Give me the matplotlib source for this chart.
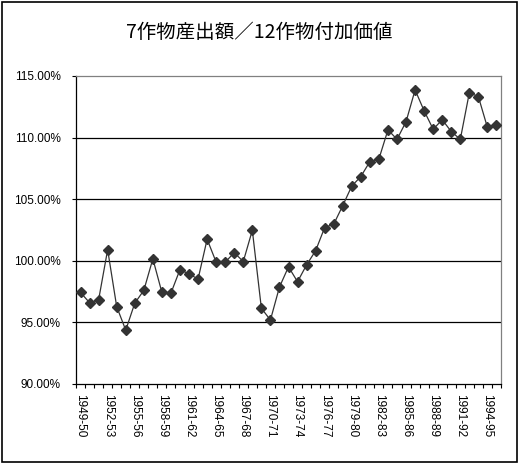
import matplotlib
matplotlib.use("Agg")
import matplotlib.pyplot as plt
from matplotlib.patches import Rectangle
from matplotlib.ticker import FixedLocator, FuncFormatter

# Data
years = [f"{y}-{str(y + 1)[-2:]}" for y in range(1949, 1996)]

ratio = [
    97.43, 96.60, 96.83, 100.90, 96.28, 94.37, 96.56, 97.60, 100.16, 97.43,
    97.38, 99.29, 98.93, 98.52, 101.75, 99.89, 99.89, 100.66, 99.94, 102.48,
    96.15, 95.19, 97.87, 99.51, 98.30, 99.67, 100.82, 102.70, 102.97, 104.48,
    106.07, 106.84, 108.05, 108.27, 110.63, 109.86, 111.29, 113.87, 112.17, 110.68,
    111.45, 110.49, 109.86, 113.65, 113.32, 110.82, 111.01,
]

y_ticks = [90, 95, 100, 105, 110, 115]
title = "7作物産出額／12作物付加価値"

# Figure
W, H = 518, 463
fig = plt.figure(figsize=(W / 100, H / 100), dpi=100)
fig.patch.set_facecolor("white")

ax = fig.add_axes([76 / W, 1 - 384 / H, (501 - 76) / W, (384 - 76) / H])

x = list(range(len(ratio)))
ax.plot(x, ratio, color="#333333", linewidth=0.9, marker="D",
        markersize=5.5, markerfacecolor="#333333", markeredgecolor="#333333",
        zorder=3)

# Axes limits / ticks
ax.set_xlim(-0.5, len(ratio) - 0.5)
ax.set_ylim(90, 115)

ax.xaxis.set_major_locator(FixedLocator([i - 0.5 for i in range(len(ratio) + 1)]))
ax.xaxis.set_major_formatter(FuncFormatter(lambda v, p: ""))
label_pos = list(range(0, len(ratio), 3))
ax.xaxis.set_minor_locator(FixedLocator(label_pos))
ax.xaxis.set_minor_formatter(FuncFormatter(lambda v, p: years[int(round(v))]))
ax.tick_params(axis="x", which="major", direction="out", length=3,
               width=0.8, color="black")
ax.tick_params(axis="x", which="minor", length=0, pad=7)
for lbl in ax.xaxis.get_minorticklabels():
    lbl.set_rotation(-90)
    lbl.set_fontsize(8.5)
    lbl.set_family("Liberation Sans")
    lbl.set_va("top")
    lbl.set_ha("center")

ax.set_yticks(y_ticks)
ax.yaxis.set_major_formatter(FuncFormatter(lambda v, p: f"{v:.2f}%"))
ax.tick_params(axis="y", direction="out", length=3, width=0.8,
               color="black", pad=8)
for lbl in ax.get_yticklabels():
    lbl.set_fontsize(8.5)
    lbl.set_family("Liberation Sans")

# Gridlines
for v in y_ticks[1:-1]:
    ax.axhline(v, color="black", linewidth=0.9, zorder=1)

for side in ["left", "bottom"]:
    ax.spines[side].set_color("black")
    ax.spines[side].set_linewidth(0.9)
for side in ["top", "right"]:
    ax.spines[side].set_color("#808080")
    ax.spines[side].set_linewidth(0.9)

# Title
fig.text(259 / W, 1 - 32 / H, title, ha="center", va="center", fontsize=14,
         family=["Noto Sans CJK JP", "DejaVu Sans"])

# Outer frame
fig.patches.append(Rectangle((1.5 / W, 1.5 / H), (W - 3) / W, (H - 3) / H,
                             transform=fig.transFigure, fill=False,
                             edgecolor="black", linewidth=1.2))

fig.savefig("out.png", dpi=100)
